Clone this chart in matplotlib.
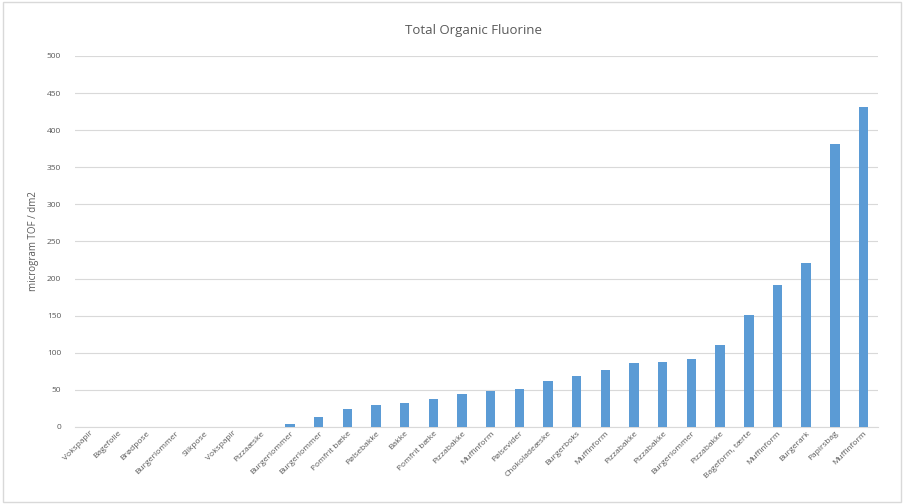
import matplotlib
matplotlib.use("Agg")
import matplotlib.pyplot as plt
from matplotlib.patches import Rectangle

# Sample labels (Danish packaging types) and TOF values
labels = ["Vokspapir", "Bagefolie", "Brødpose", "Burgerlommer", "Slikpose", "Vokspapir",
          "Pizzaæske", "Burgerlommer", "Burgerlommer", "Pomfrit bæke", "Pølsebakke", "Bakke",
          "Pomfrit bæke", "Pizzabakke", "Muffinform", "Pølsevider", "Chokoladeæske",
          "Burgerboks", "Muffinform", "Pizzabakke", "Pizzabakke", "Burgerlommer", "Pizzabakke",
          "Bageform, tærte", "Muffinform", "Burgerark", "Papirsbag", "Muffinform"]
values = [0, 0, 0, 0, 0, 0, 0, 4, 13, 24, 29, 32, 38, 45, 48, 51, 62, 69, 77, 86, 88, 92,
          110, 151, 191, 221, 381, 431]
yticks = list(range(0, 501, 50))

plt.rcParams["font.family"] = ["Open Sans", "DejaVu Sans"]
grey = "#595959"

fig = plt.figure(figsize=(9.04, 5.04), dpi=100)
ax = fig.add_axes([0.083, 0.153, 0.888, 0.736])

x = range(len(labels))
ax.bar(x, values, width=0.33, color="#5B9BD5", zorder=3)

ax.set_xlim(-0.5, len(labels) - 0.5)
ax.set_ylim(0, 500)
ax.set_yticks(yticks)
ax.tick_params(axis="y", length=0, labelsize=6, labelcolor=grey, pad=10)
ax.tick_params(axis="x", length=0, pad=2)
ax.set_xticks(list(x))
ax.set_xticklabels(labels, rotation=45, ha="right", rotation_mode="anchor",
                   fontsize=6, color=grey)
ax.grid(axis="y", color="#D9D9D9", lw=0.8, zorder=0)
for side in ("top", "right", "left"):
    ax.spines[side].set_visible(False)
ax.spines["bottom"].set_color("#D9D9D9")

ax.set_ylabel("microgram TOF / dm2", fontsize=7, color=grey, labelpad=6)
fig.text(0.524, 0.94, "Total Organic Fluorine", ha="center", va="center",
         fontsize=9.5, color=grey)

# light border around the chart area
fig.patches.append(Rectangle((0.003, 0.004), 0.994, 0.992, transform=fig.transFigure,
                             fill=False, edgecolor="#D9D9D9", lw=1))

fig.savefig("out.png", dpi=100)
